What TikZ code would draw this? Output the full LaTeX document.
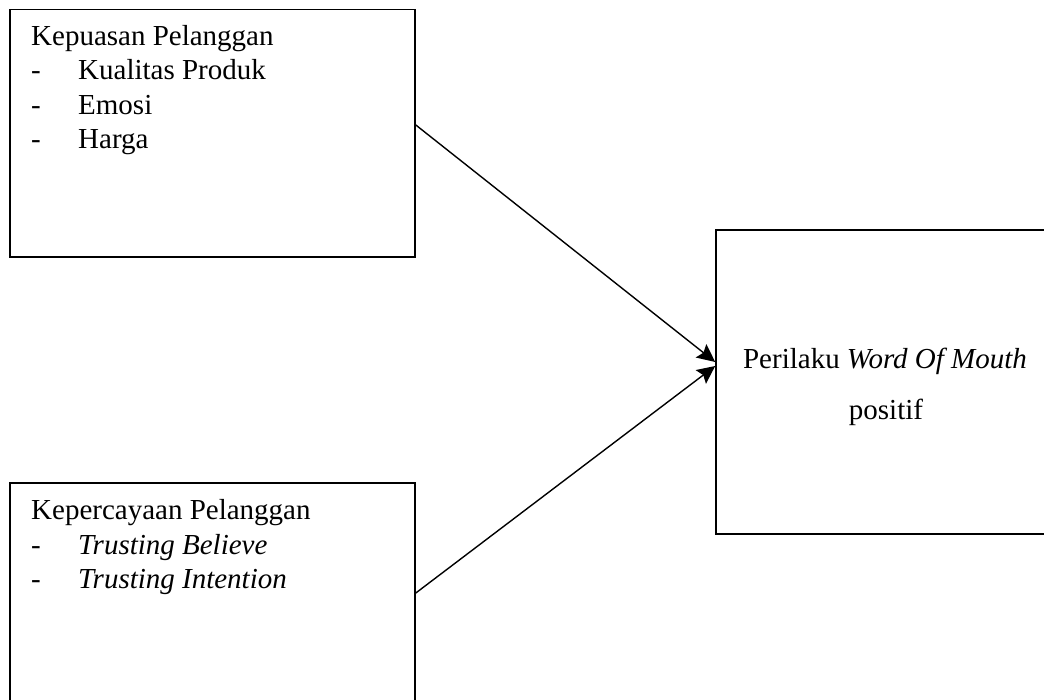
\documentclass[tikz,border=0pt]{standalone}
\usepackage{fontspec}
\setmainfont{Liberation Serif}
\usetikzlibrary{arrows.meta}
\begin{document}
\begin{tikzpicture}[x=1pt,y=-1pt,
  boxnode/.style={draw=black,line width=1.6pt,minimum width=#1,inner sep=0pt},
  lbl/.style={anchor=base west,inner sep=0pt,font=\fontsize{29}{34}\selectfont},
  clbl/.style={anchor=base,inner sep=0pt,font=\fontsize{29}{34}\selectfont},
  arr/.style={line width=1.4pt,-{Stealth[length=18pt,width=17pt,inset=3pt]}}]
\useasboundingbox (0,0) rectangle (1044,700);
\clip (0,0) rectangle (1044,700);
\fill[white] (0,0) rectangle (1044,700);
% boxes
\node[boxnode=405pt,minimum height=247.5pt] (b1) at (212.5,133.25) {};
\node[boxnode=405pt,minimum height=218pt] (b3) at (212.5,592) {};
\node[boxnode=340pt,minimum height=304pt] (b2) at (886,382) {};
% box 1 text
\node[lbl] (t1) at (31,46) {Kepuasan Pelanggan};
\node[lbl] (d11) at (31,80) {-};
\node[lbl] (i11) at (78,80) {Kualitas Produk};
\node[lbl] (d12) at (31,115) {-};
\node[lbl] (i12) at (78,115) {Emosi};
\node[lbl] (d13) at (31,149) {-};
\node[lbl] (i13) at (78,149) {Harga};
% box 3 text
\node[lbl] (t3) at (31,519) {Kepercayaan Pelanggan};
\node[lbl] (d31) at (31,554) {-};
\node[lbl] (i31) at (78,554) {\textit{Trusting Believe}};
\node[lbl] (d32) at (31,588) {-};
\node[lbl] (i32) at (78,588) {\textit{Trusting Intention}};
% box 2 text
\node[clbl] (t2a) at (885,369) {Perilaku \textit{Word Of Mouth}};
\node[clbl] (t2b) at (886,419) {positif};
% connectors
\draw[arr] (b1.east |- 0,125) -- (b2.west |- 0,362);
\draw[arr] (b3.east |- 0,593) -- (b2.west |- 0,366);
\end{tikzpicture}
\end{document}
